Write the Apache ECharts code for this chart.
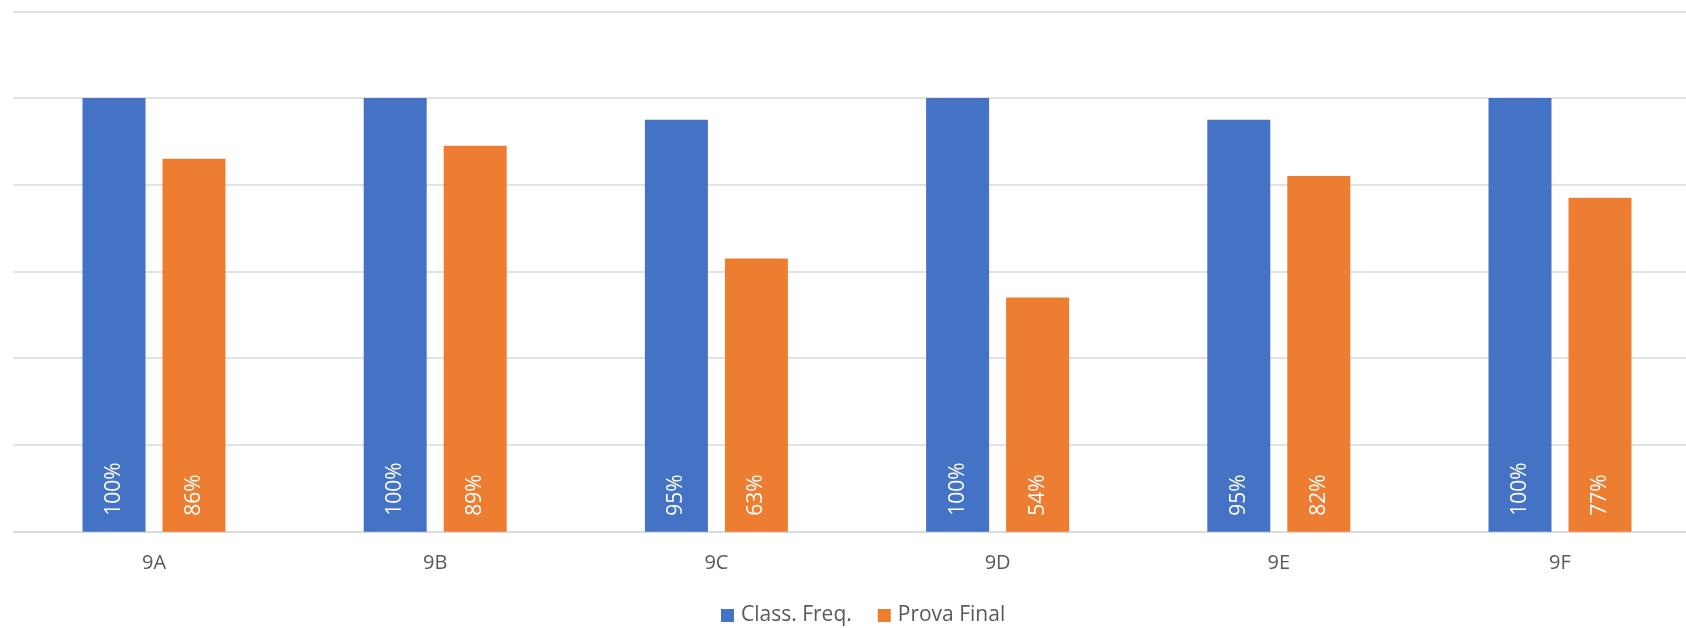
<!DOCTYPE html>
<html>
<head>
<meta charset="utf-8">
<script src="https://cdn.jsdelivr.net/npm/echarts@6/dist/echarts.min.js"></script>
<style>html,body{margin:0;padding:0;background:#fff}#c{width:1686px;height:628px}</style>
</head>
<body>
<div id="c"></div>
<script>
const categories = ['9A', '9B', '9C', '9D', '9E', '9F'];
const classFreq = [1.00, 1.00, 0.95, 1.00, 0.95, 1.00];
const provaFinal = [0.86, 0.89, 0.63, 0.54, 0.82, 0.77];
const seriesNames = ['Class. Freq.', 'Prova Final'];

const FONT = '"Open Sans", "Liberation Sans", sans-serif';
const chart = echarts.init(document.getElementById('c'), null, {renderer: 'canvas'});
const labelOpt = {
  show: true,
  position: 'insideBottom',
  rotate: 90,
  align: 'left',
  verticalAlign: 'middle',
  distance: 16,
  color: '#ffffff',
  fontSize: 21,
  fontFamily: FONT,
  formatter: p => Math.round(p.value * 100) + '%'
};
chart.setOption({
  animation: false,
  backgroundColor: '#ffffff',
  grid: {left: 13.4, width: 1687.2, top: 11.3, bottom: 96.3, containLabel: false, outerBoundsMode: 'none'},
  legend: {
    data: seriesNames,
    left: 721, top: 605, padding: 0,
    itemWidth: 13, itemHeight: 13, itemGap: 26,
    icon: 'rect',
    textStyle: {color: '#595959', fontSize: 21, fontFamily: FONT, padding: [0, 0, 0, 2]}
  },
  xAxis: {
    type: 'category',
    data: categories,
    axisLine: {lineStyle: {color: '#d9d9d9', width: 1.5}},
    axisTick: {show: false},
    axisLabel: {color: '#595959', fontSize: 20, fontFamily: FONT, margin: 22}
  },
  yAxis: {
    type: 'value', min: 0, max: 1.2, interval: 0.2,
    axisLabel: {show: false},
    axisLine: {show: false}, axisTick: {show: false},
    splitLine: {lineStyle: {color: '#d9d9d9', width: 1.5}}
  },
  series: [
    {name: seriesNames[0], type: 'bar', data: classFreq, barWidth: '22.4%', barGap: '27%',
     itemStyle: {color: '#4472C4'}, label: labelOpt},
    {name: seriesNames[1], type: 'bar', data: provaFinal, barWidth: '22.4%', barGap: '27%',
     itemStyle: {color: '#ED7D31'}, label: labelOpt}
  ]
});
</script>
</body>
</html>
